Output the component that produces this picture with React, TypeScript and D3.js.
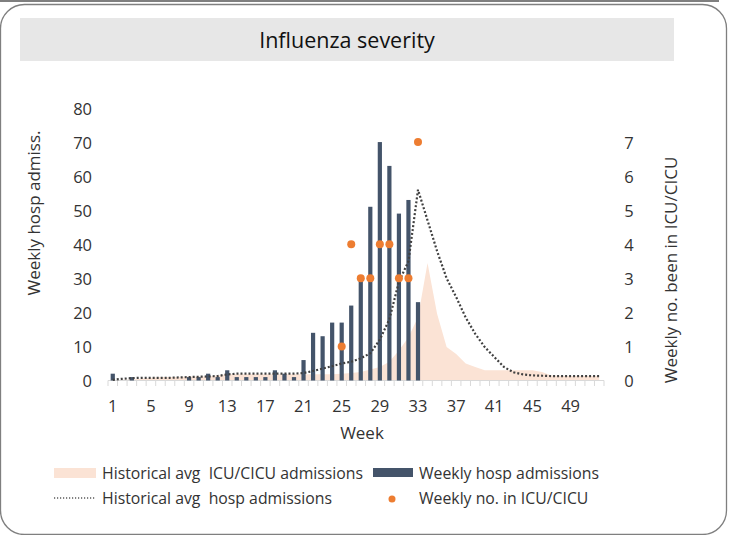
import React from "react";
import * as d3 from "d3";

// weeks 1..52 on the category axis
const weeks: number[] = d3.range(1, 53);
const weekTickLabels: number[] = [1, 5, 9, 13, 17, 21, 25, 29, 33, 37, 41, 45, 49];

// weekly hospital admissions (weeks 1-33)
const hospAdmissions: number[] = [
  2, 0, 1, 0, 0, 0, 0, 0, 1, 1, 2, 1, 3, 1, 1, 1, 1, 3, 2, 1, 6, 14, 13, 17, 17,
  22, 30, 51, 70, 63, 49, 53, 23,
];

// weekly number in ICU/CICU (right axis), null = no point
const icuWeekly: (number | null)[] = [
  null, null, null, null, null, null, null, null, null, null, null, null, null,
  null, null, null, null, null, null, null, null, null, null, null, 1, 4, 3, 3,
  4, 4, 3, 3, 7,
];

// historical average hospital admissions (dotted line, left axis)
const histHosp: number[] = [
  0.2, 0.5, 0.7, 0.8, 0.8, 0.8, 0.8, 0.9, 1, 1.1, 1.2, 1.3, 1.8, 2, 2, 2, 2, 2,
  2, 2, 2.2, 2.8, 3.5, 4.2, 5, 5.5, 6.5, 8, 12, 18, 29, 35, 56, 47, 38, 30, 24.5,
  18.5, 13.7, 9.8, 6.9, 4, 2.4, 1.8, 1.5, 1.4, 1.3, 1.3, 1.3, 1.3, 1.3, 1.3,
];

// historical average ICU/CICU admissions (area, right axis)
const histIcu: number[] = [
  0, 0.02, 0.03, 0.05, 0.08, 0.1, 0.1, 0.1, 0.12, 0.12, 0.12, 0.15, 0.18, 0.18,
  0.18, 0.18, 0.18, 0.18, 0.18, 0.18, 0.18, 0.18, 0.18, 0.18, 0.2, 0.22, 0.25,
  0.32, 0.4, 0.55, 0.88, 1.27, 1.86, 3.45, 1.96, 0.98, 0.78, 0.5, 0.4, 0.3, 0.3,
  0.3, 0.3, 0.3, 0.3, 0.25, 0.15, 0.13, 0.13, 0.13, 0.13, 0.13,
];

const leftTicks: number[] = [0, 10, 20, 30, 40, 50, 60, 70, 80];
const rightTicks: number[] = [0, 1, 2, 3, 4, 5, 6, 7];

const FONT = "'Open Sans', Lato, sans-serif";
const NAVY = "#44546a";
const ORANGE = "#ed7d31";
const PEACH = "#fbe3d5";
const TXT = "#333";

const App = () => {
  const ref = React.useRef<HTMLDivElement>(null);

  React.useEffect(() => {
    const root = d3.select(ref.current);
    root.selectAll("*").remove();
    const svg = root
      .append("svg")
      .attr("width", 731)
      .attr("height", 535)
      .style("position", "absolute")
      .style("left", "0px")
      .style("top", "0px")
      .style("font-family", FONT);

    // frame
    svg.append("line")
      .attr("x1", 0).attr("x2", 719).attr("y1", 1).attr("y2", 1)
      .attr("stroke", "#7f7f7f").attr("stroke-width", 2);
    svg.append("rect")
      .attr("x", 0.5).attr("y", 4.5).attr("width", 726).attr("height", 530)
      .attr("rx", 24).attr("fill", "none")
      .attr("stroke", "#7f7f7f").attr("stroke-width", 1.3);

    // title band
    svg.append("rect")
      .attr("x", 20).attr("y", 18).attr("width", 654).attr("height", 43)
      .attr("fill", "#e7e7e7");
    svg.append("text")
      .attr("x", 347).attr("y", 39).attr("text-anchor", "middle")
      .attr("dominant-baseline", "central")
      .attr("font-size", 21.5).attr("fill", "#111")
      .text("Influenza severity");

    const x = d3.scaleBand<number>().domain(weeks).range([108, 604]);
    const yL = d3.scaleLinear().domain([0, 80]).range([380.5, 108]);
    const yR = d3.scaleLinear().domain([0, 8]).range([380.5, 108]);
    const cx = (w: number) => (x(w) as number) + x.bandwidth() / 2;

    // historical ICU area
    const area = d3.area<number>()
      .x((_, i) => cx(weeks[i]))
      .y0(yR(0))
      .y1((d) => yR(d));
    svg.append("path").attr("d", area(histIcu) as string).attr("fill", PEACH);

    // x axis
    const g = svg.append("g");
    g.append("line")
      .attr("x1", 108).attr("x2", 604).attr("y1", 380.5).attr("y2", 380.5)
      .attr("stroke", "#d9d9d9");
    g.selectAll(".tk").data([...weeks, 53]).join("line")
      .attr("x1", (w) => (w === 53 ? 604 : (x(w) as number)))
      .attr("x2", (w) => (w === 53 ? 604 : (x(w) as number)))
      .attr("y1", 380.5).attr("y2", 386)
      .attr("stroke", "#d9d9d9");

    // bars
    const bw = 4.2;
    svg.selectAll(".bar").data(hospAdmissions).join("rect")
      .attr("x", (_, i) => cx(weeks[i]) - bw / 2)
      .attr("y", (d) => yL(d))
      .attr("width", bw)
      .attr("height", (d) => yL(0) - yL(d))
      .attr("fill", NAVY);

    // historical hosp dotted line
    const line = d3.line<number>()
      .x((_, i) => cx(weeks[i]))
      .y((d) => yL(d));
    svg.append("path").attr("d", line(histHosp) as string)
      .attr("fill", "none").attr("stroke", "#404040")
      .attr("stroke-width", 2.2).attr("stroke-dasharray", "2 2");

    // ICU dots
    svg.selectAll(".dot")
      .data(icuWeekly.map((v, i) => ({ w: weeks[i], v })).filter((d) => d.v !== null))
      .join("circle")
      .attr("cx", (d) => cx(d.w))
      .attr("cy", (d) => yR(d.v as number))
      .attr("r", 4)
      .attr("fill", ORANGE);

    // tick labels
    const tickSize = 16.5;
    svg.selectAll(".lt").data(leftTicks).join("text")
      .attr("x", 92).attr("y", (d) => yL(d))
      .attr("text-anchor", "end").attr("dominant-baseline", "central")
      .attr("font-size", tickSize).attr("fill", TXT).text((d) => d);
    svg.selectAll(".rt").data(rightTicks).join("text")
      .attr("x", 629).attr("y", (d) => yR(d))
      .attr("text-anchor", "middle").attr("dominant-baseline", "central")
      .attr("font-size", tickSize).attr("fill", TXT).text((d) => d);
    svg.selectAll(".xt").data(weekTickLabels).join("text")
      .attr("x", (d) => cx(d)).attr("y", 405)
      .attr("text-anchor", "middle").attr("dominant-baseline", "central")
      .attr("font-size", tickSize).attr("fill", TXT).text((d) => d);

    // axis titles
    svg.append("text")
      .attr("transform", "translate(33,213) rotate(-90)")
      .attr("text-anchor", "middle").attr("dominant-baseline", "central")
      .attr("font-size", 17).attr("fill", TXT).text("Weekly hosp admiss.");
    svg.append("text")
      .attr("transform", "translate(670,270) rotate(-90)")
      .attr("text-anchor", "middle").attr("dominant-baseline", "central")
      .attr("font-size", 17).attr("fill", TXT).text("Weekly no. been in ICU/CICU");
    svg.append("text")
      .attr("x", 362).attr("y", 432)
      .attr("text-anchor", "middle").attr("dominant-baseline", "central")
      .attr("font-size", 17).attr("fill", TXT).text("Week");

    // legend
    const lg = svg.append("g").attr("font-size", 15.8).attr("fill", TXT);
    lg.append("rect").attr("x", 54).attr("y", 468).attr("width", 42).attr("height", 10)
      .attr("fill", PEACH);
    lg.append("text").attr("x", 102).attr("y", 473).attr("dominant-baseline", "central")
      .text("Historical avg \u00a0ICU/CICU admissions");
    lg.append("rect").attr("x", 373).attr("y", 468).attr("width", 40).attr("height", 9)
      .attr("fill", NAVY);
    lg.append("text").attr("x", 419).attr("y", 473).attr("dominant-baseline", "central")
      .text("Weekly hosp admissions");
    lg.append("line").attr("x1", 54).attr("x2", 96).attr("y1", 498).attr("y2", 498)
      .attr("stroke", "#595959").attr("stroke-width", 1.3).attr("stroke-dasharray", "1.2 1.8");
    lg.append("text").attr("x", 102).attr("y", 498).attr("dominant-baseline", "central")
      .text("Historical avg \u00a0hosp admissions");
    lg.append("circle").attr("cx", 392).attr("cy", 499).attr("r", 3.5).attr("fill", ORANGE);
    lg.append("text").attr("x", 419).attr("y", 498).attr("dominant-baseline", "central")
      .text("Weekly no. in ICU/CICU");
  }, []);

  return <div ref={ref} />;
};

export default App;
